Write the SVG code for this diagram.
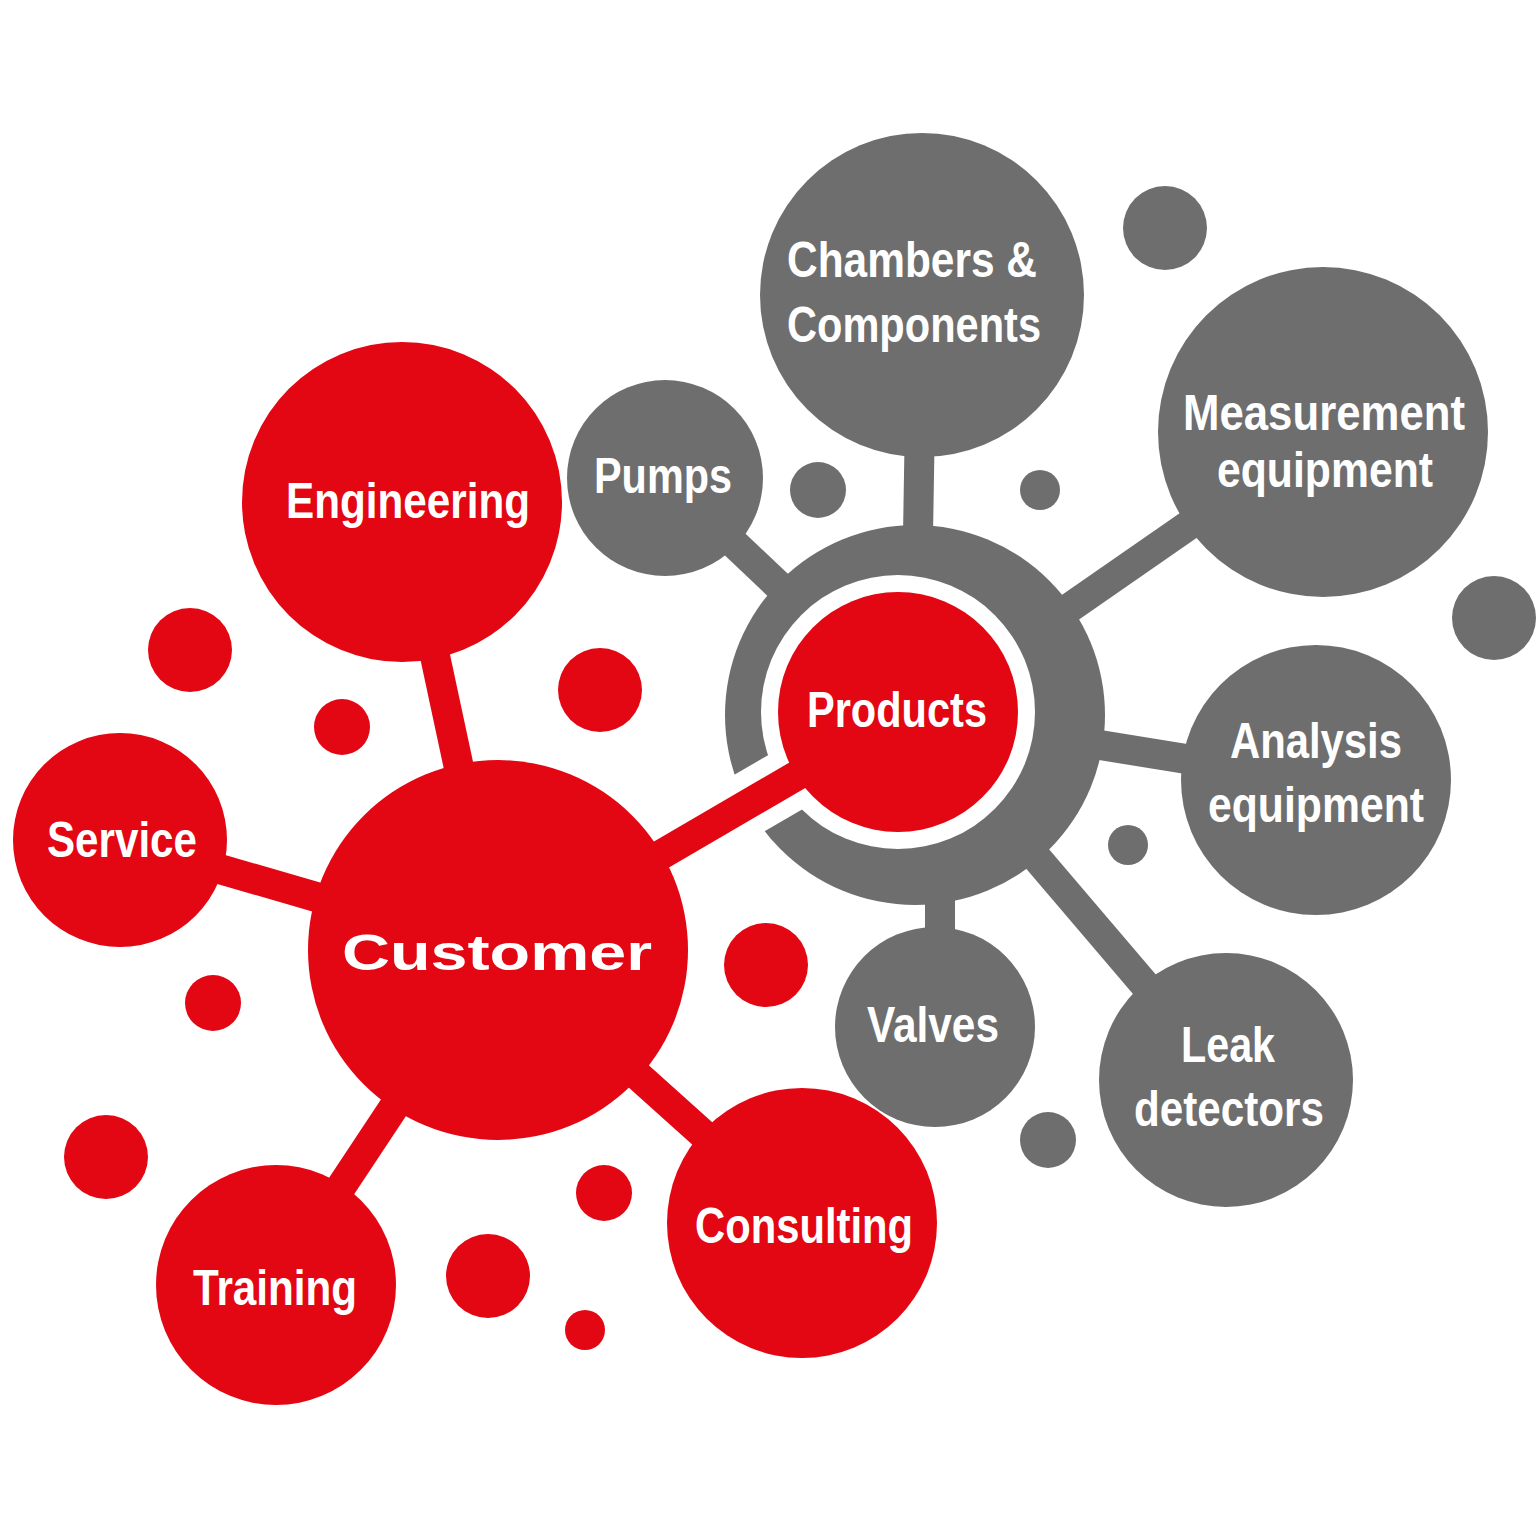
<svg xmlns="http://www.w3.org/2000/svg" width="1536" height="1536" viewBox="0 0 1536 1536">
<style>
.r{fill:#e30613}.g{fill:#6e6e6e}
.cr{stroke:#e30613;stroke-width:30}.cg{stroke:#6e6e6e;stroke-width:30}
text{font-family:"Liberation Sans",Arial,sans-serif;font-weight:bold;fill:#fff;text-anchor:middle;font-size:50px}
</style>
<rect width="1536" height="1536" fill="#fff"/>
<g id="connectors">
<line class="cr" x1="498" y1="950" x2="402" y2="502"/>
<line class="cr" x1="498" y1="950" x2="120" y2="840"/>
<line class="cr" x1="498" y1="950" x2="276" y2="1285"/>
<line class="cr" x1="498" y1="950" x2="802" y2="1223"/>
<line class="cg" x1="915" y1="715" x2="665" y2="478"/>
<line class="cg" x1="915" y1="715" x2="922" y2="295"/>
<line class="cg" x1="915" y1="715" x2="1323" y2="432"/>
<line class="cg" x1="915" y1="715" x2="1316" y2="780"/>
<line class="cg" x1="915" y1="715" x2="1226" y2="1080"/>
<line class="cg" x1="940" y1="715" x2="940" y2="1027"/>
</g>
<g id="dots">
<circle class="r" cx="190" cy="650" r="42"/><circle class="r" cx="342" cy="727" r="28"/>
<circle class="r" cx="600" cy="690" r="42"/><circle class="r" cx="213" cy="1003" r="28"/>
<circle class="r" cx="106" cy="1157" r="42"/><circle class="r" cx="766" cy="965" r="42"/>
<circle class="r" cx="604" cy="1193" r="28"/><circle class="r" cx="488" cy="1276" r="42"/>
<circle class="r" cx="585" cy="1330" r="20"/>
<circle class="g" cx="1165" cy="228" r="42"/><circle class="g" cx="818" cy="490" r="28"/>
<circle class="g" cx="1040" cy="490" r="20"/><circle class="g" cx="1494" cy="618" r="42"/>
<circle class="g" cx="1128" cy="845" r="20"/><circle class="g" cx="1048" cy="1140" r="28"/>
</g>
<g id="hub">
<circle class="g" cx="915" cy="715" r="190"/>
<circle fill="#fff" cx="898" cy="712" r="137"/>
<line x1="660" y1="855" x2="820" y2="762" stroke="#fff" stroke-width="64"/>
<line class="cr" x1="498" y1="950" x2="820" y2="762"/>
</g>
<g id="products"><circle class="r" cx="898" cy="712" r="120"/><text x="897" y="727" textLength="180" lengthAdjust="spacingAndGlyphs">Products</text></g>
<g id="customer"><circle class="r" cx="498" cy="950" r="190"/><text x="497" y="970" font-size="80" textLength="310" lengthAdjust="spacingAndGlyphs">Customer</text></g>
<g id="engineering"><circle class="r" cx="402" cy="502" r="160"/><text x="408" y="518" textLength="244" lengthAdjust="spacingAndGlyphs">Engineering</text></g>
<g id="service"><circle class="r" cx="120" cy="840" r="107"/><text x="122" y="857" textLength="150" lengthAdjust="spacingAndGlyphs">Service</text></g>
<g id="training"><circle class="r" cx="276" cy="1285" r="120"/><text x="275" y="1305" textLength="164" lengthAdjust="spacingAndGlyphs">Training</text></g>
<g id="consulting"><circle class="r" cx="802" cy="1223" r="135"/><text x="804" y="1243" textLength="218" lengthAdjust="spacingAndGlyphs">Consulting</text></g>
<g id="pumps"><circle class="g" cx="665" cy="478" r="98"/><text x="663" y="493" textLength="138" lengthAdjust="spacingAndGlyphs">Pumps</text></g>
<g id="chambers"><circle class="g" cx="922" cy="295" r="162"/><text x="912" y="277" textLength="250" lengthAdjust="spacingAndGlyphs">Chambers &amp;</text><text x="914" y="342" textLength="254" lengthAdjust="spacingAndGlyphs">Components</text></g>
<g id="measurement"><circle class="g" cx="1323" cy="432" r="165"/><text x="1324" y="430" textLength="282" lengthAdjust="spacingAndGlyphs">Measurement</text><text x="1325" y="487" textLength="216" lengthAdjust="spacingAndGlyphs">equipment</text></g>
<g id="analysis"><circle class="g" cx="1316" cy="780" r="135"/><text x="1316" y="758" textLength="172" lengthAdjust="spacingAndGlyphs">Analysis</text><text x="1316" y="822" textLength="216" lengthAdjust="spacingAndGlyphs">equipment</text></g>
<g id="leak"><circle class="g" cx="1226" cy="1080" r="127"/><text x="1228" y="1062" textLength="94" lengthAdjust="spacingAndGlyphs">Leak</text><text x="1229" y="1126" textLength="190" lengthAdjust="spacingAndGlyphs">detectors</text></g>
<g id="valves"><circle class="g" cx="935" cy="1027" r="100"/><text x="933" y="1042" textLength="132" lengthAdjust="spacingAndGlyphs">Valves</text></g>
</svg>
